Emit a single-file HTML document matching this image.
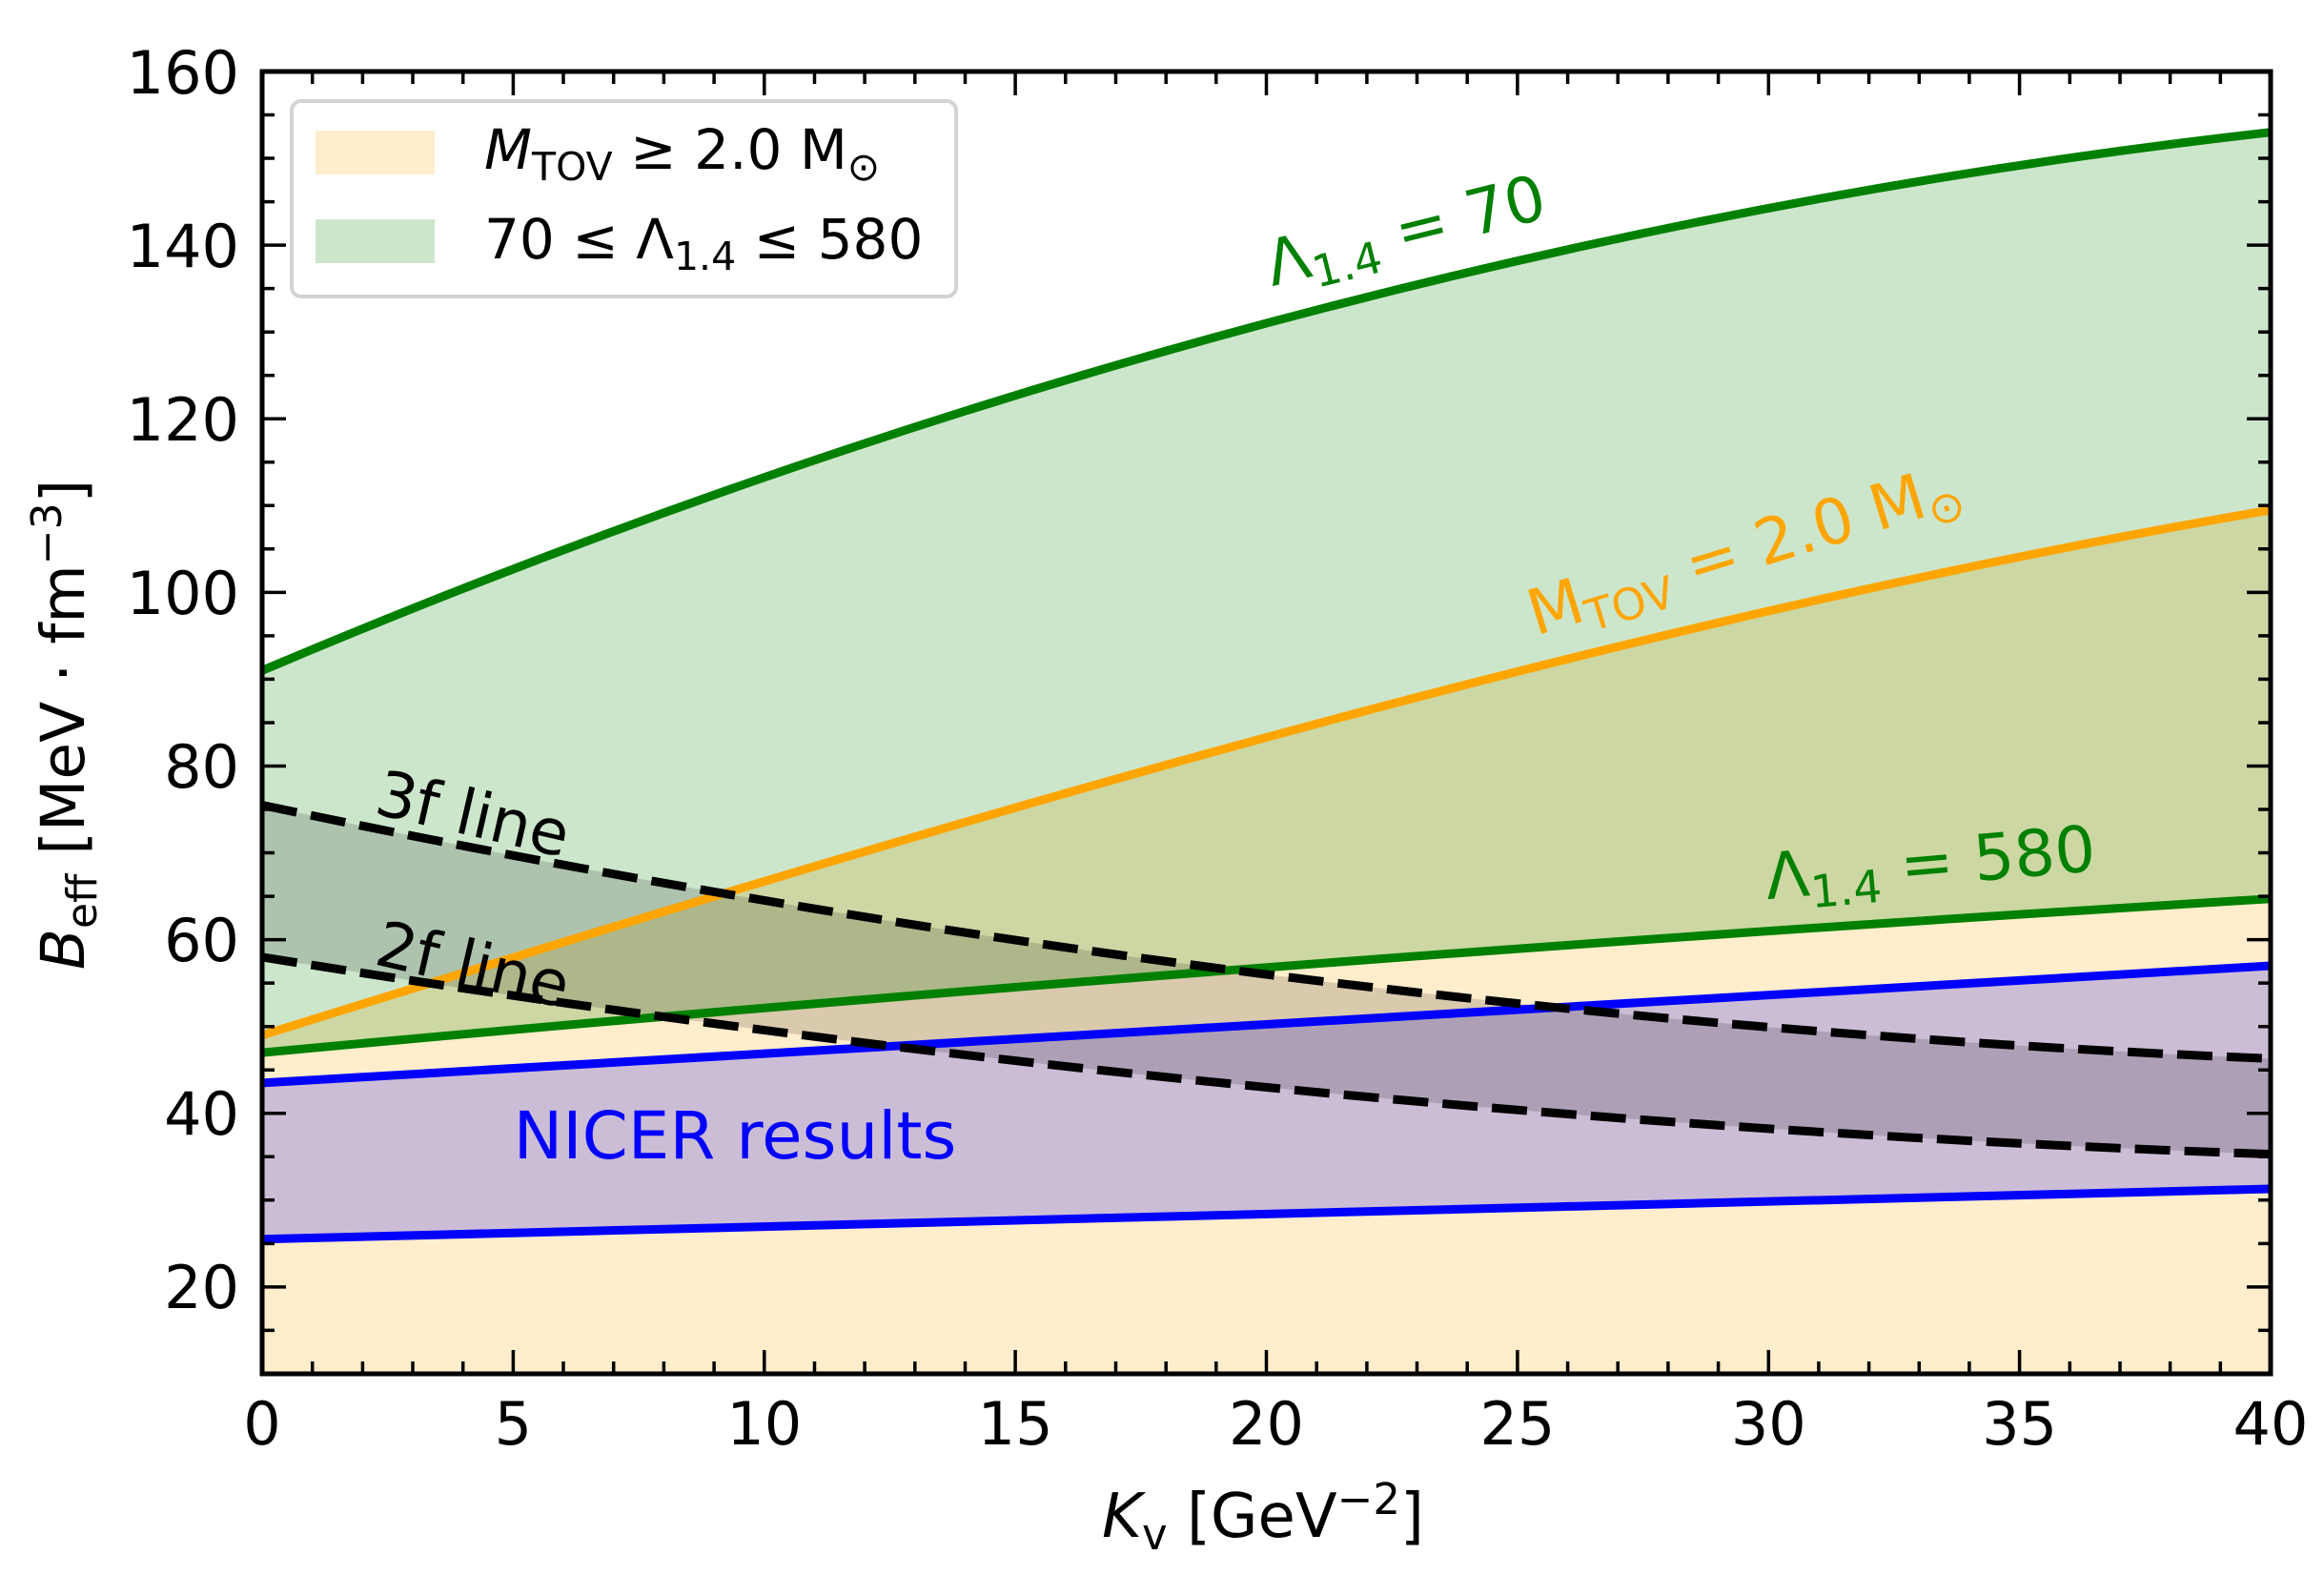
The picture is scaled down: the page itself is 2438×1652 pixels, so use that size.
<!DOCTYPE html>
<html><head><meta charset="utf-8"><style>
html,body{margin:0;padding:0;background:#fff}
svg{display:block;font-family:"DejaVu Sans","Liberation Sans",sans-serif}
</style></head><body>
<svg width="2438" height="1652" viewBox="0 0 2438 1652" xmlns="http://www.w3.org/2000/svg">
<defs><clipPath id="c"><rect x="275" y="75" width="2107" height="1366"/></clipPath></defs>
<g clip-path="url(#c)">
<path d="M275,1085.8 C977.3,867.3 1679.8,655 2382,534.9 L2382,1441 L275,1441Z" fill="#ffa500" fill-opacity="0.2"/>
<path d="M275,703.3 Q1328.5,257.1 2382,138.7 L2382,942.8 Q1328.5,1006.1 275,1104.1Z" fill="#008000" fill-opacity="0.2"/>
<path d="M275,1135.9 L2382,1013 L2382,1247 L275,1299.8Z" fill="#0000ff" fill-opacity="0.2"/>
<path d="M275,844.5 Q1328.5,1066.7 2382,1110.4 L2382,1210.6 Q1328.5,1173.7 275,1003.9Z" fill="#000" fill-opacity="0.15"/>
<g fill="none" stroke-width="9" stroke-linejoin="round">
<path stroke="#008000" d="M275,703.3 Q1328.5,257.1 2382,138.7"/>
<path stroke="#ffa500" d="M275,1085.8 C977.3,867.3 1679.8,655 2382,534.9"/>
<path stroke="#008000" d="M275,1104.1 Q1328.5,1006.1 2382,942.8"/>
<path stroke="#0000ff" d="M275,1135.9 L2382,1013"/>
<path stroke="#0000ff" d="M275,1299.8 L2382,1247"/>
<path stroke="#000" stroke-dasharray="37,15" d="M275,844.5 Q1328.5,1066.7 2382,1110.4"/>
<path stroke="#000" stroke-dasharray="37,15" d="M275,1003.9 Q1328.5,1173.7 2382,1210.6"/>
</g>
</g>
<g stroke="#000" stroke-width="3.5">
<path d="M538.4,1441v-25M801.8,1441v-25M1065.1,1441v-25M1328.5,1441v-25M1591.9,1441v-25M1855.3,1441v-25M2118.6,1441v-25M538.4,75v25M801.8,75v25M1065.1,75v25M1328.5,75v25M1591.9,75v25M1855.3,75v25M2118.6,75v25"/>
<path d="M327.7,1441v-13M380.4,1441v-13M433,1441v-13M485.7,1441v-13M591,1441v-13M643.7,1441v-13M696.4,1441v-13M749.1,1441v-13M854.5,1441v-13M907.1,1441v-13M959.8,1441v-13M1012.5,1441v-13M1117.8,1441v-13M1170.5,1441v-13M1223.2,1441v-13M1275.8,1441v-13M1381.2,1441v-13M1433.9,1441v-13M1486.5,1441v-13M1539.2,1441v-13M1644.6,1441v-13M1697.2,1441v-13M1749.9,1441v-13M1802.6,1441v-13M1907.9,1441v-13M1960.6,1441v-13M2013.3,1441v-13M2065.9,1441v-13M2171.3,1441v-13M2224,1441v-13M2276.6,1441v-13M2329.3,1441v-13
M327.7,75v13M380.4,75v13M433,75v13M485.7,75v13M591,75v13M643.7,75v13M696.4,75v13M749.1,75v13M854.5,75v13M907.1,75v13M959.8,75v13M1012.5,75v13M1117.8,75v13M1170.5,75v13M1223.2,75v13M1275.8,75v13M1381.2,75v13M1433.9,75v13M1486.5,75v13M1539.2,75v13M1644.6,75v13M1697.2,75v13M1749.9,75v13M1802.6,75v13M1907.9,75v13M1960.6,75v13M2013.3,75v13M2065.9,75v13M2171.3,75v13M2224,75v13M2276.6,75v13M2329.3,75v13"/>
<path d="M275,1349.9h25M275,1167.8h25M275,985.6h25M275,803.5h25M275,621.4h25M275,439.2h25M275,257.1h25M2382,1349.9h-25M2382,1167.8h-25M2382,985.6h-25M2382,803.5h-25M2382,621.4h-25M2382,439.2h-25M2382,257.1h-25"/>
<path d="M275,1395.4h13M275,1304.4h13M275,1258.8h13M275,1213.3h13M275,1122.2h13M275,1076.7h13M275,1031.1h13M275,940.1h13M275,894.5h13M275,849h13M275,758h13M275,712.4h13M275,666.9h13M275,575.8h13M275,530.3h13M275,484.8h13M275,393.7h13M275,348.2h13M275,302.6h13M275,211.6h13M275,166h13M275,120.5h13
M2382,1395.4h-13M2382,1304.4h-13M2382,1258.8h-13M2382,1213.3h-13M2382,1122.2h-13M2382,1076.7h-13M2382,1031.1h-13M2382,940.1h-13M2382,894.5h-13M2382,849h-13M2382,758h-13M2382,712.4h-13M2382,666.9h-13M2382,575.8h-13M2382,530.3h-13M2382,484.8h-13M2382,393.7h-13M2382,348.2h-13M2382,302.6h-13M2382,211.6h-13M2382,166h-13M2382,120.5h-13"/>
</g>
<rect x="275" y="75" width="2107" height="1366" fill="none" stroke="#000" stroke-width="5"/>
<rect x="306" y="106" width="697" height="205" rx="10" fill="#fff" fill-opacity="0.8" stroke="#d3d3d3" stroke-width="4"/>
<rect x="331" y="137" width="125" height="46" fill="#ffa500" fill-opacity="0.2"/>
<rect x="331" y="230" width="125" height="46" fill="#008000" fill-opacity="0.2"/>
<g font-size="58" fill="#000">
<text x="508" y="177"><tspan font-style="italic">M</tspan><tspan font-size="41" dy="12">TOV</tspan><tspan dy="-12"> ≥ 2.0 M</tspan><tspan font-size="41" dy="12">⊙</tspan></text>
<text x="508" y="271">70 ≤ Λ<tspan font-size="41" dy="12">1.4</tspan><tspan dy="-12"> ≤ 580</tspan></text>
</g>
<g font-size="62" fill="#000" text-anchor="middle">
<text x="275" y="1515">0</text><text x="538.4" y="1515">5</text><text x="801.8" y="1515">10</text><text x="1065.1" y="1515">15</text><text x="1328.5" y="1515">20</text><text x="1591.9" y="1515">25</text><text x="1855.3" y="1515">30</text><text x="2118.6" y="1515">35</text><text x="2382" y="1515">40</text>
</g>
<g font-size="62" fill="#000" text-anchor="end">
<text x="251" y="1372">20</text><text x="251" y="1190">40</text><text x="251" y="1008">60</text><text x="251" y="826">80</text><text x="251" y="644">100</text><text x="251" y="462">120</text><text x="251" y="280">140</text><text x="251" y="98">160</text>
</g>
<text x="1325" y="1612" font-size="64" text-anchor="middle"><tspan font-style="italic">K</tspan><tspan font-size="45" dy="13">v</tspan><tspan dy="-13"> [GeV</tspan><tspan font-size="45" dy="-24">−2</tspan><tspan dy="24">]</tspan></text>
<text transform="translate(88,760) rotate(-90)" font-size="63" text-anchor="middle"><tspan font-style="italic">B</tspan><tspan font-size="44" dy="13">eff</tspan><tspan dy="-13"> [MeV · fm</tspan><tspan font-size="44" dy="-24">−3</tspan><tspan dy="24">]</tspan></text>
<text transform="translate(1480,264) rotate(-14)" font-size="66" fill="#008000" text-anchor="middle">Λ<tspan font-size="46" dy="13">1.4</tspan><tspan dy="-13"> = 70</tspan></text>
<text transform="translate(1836,598) rotate(-17)" font-size="66" fill="#ffa500" text-anchor="middle">M<tspan font-size="46" dy="13">TOV</tspan><tspan dy="-13"> = 2.0 M</tspan><tspan font-size="46" dy="13">⊙</tspan></text>
<text transform="translate(2027,928) rotate(-5)" font-size="67" fill="#008000" text-anchor="middle">Λ<tspan font-size="47" dy="13">1.4</tspan><tspan dy="-13"> = 580</tspan></text>
<text transform="translate(491,876) rotate(13)" font-size="66" fill="#000" text-anchor="middle">3f line</text>
<text transform="translate(491,1034) rotate(13)" font-size="66" fill="#000" text-anchor="middle">2f line</text>
<text x="771" y="1215" font-size="69" fill="#0000ff" text-anchor="middle">NICER results</text>
</svg>
</body></html>
